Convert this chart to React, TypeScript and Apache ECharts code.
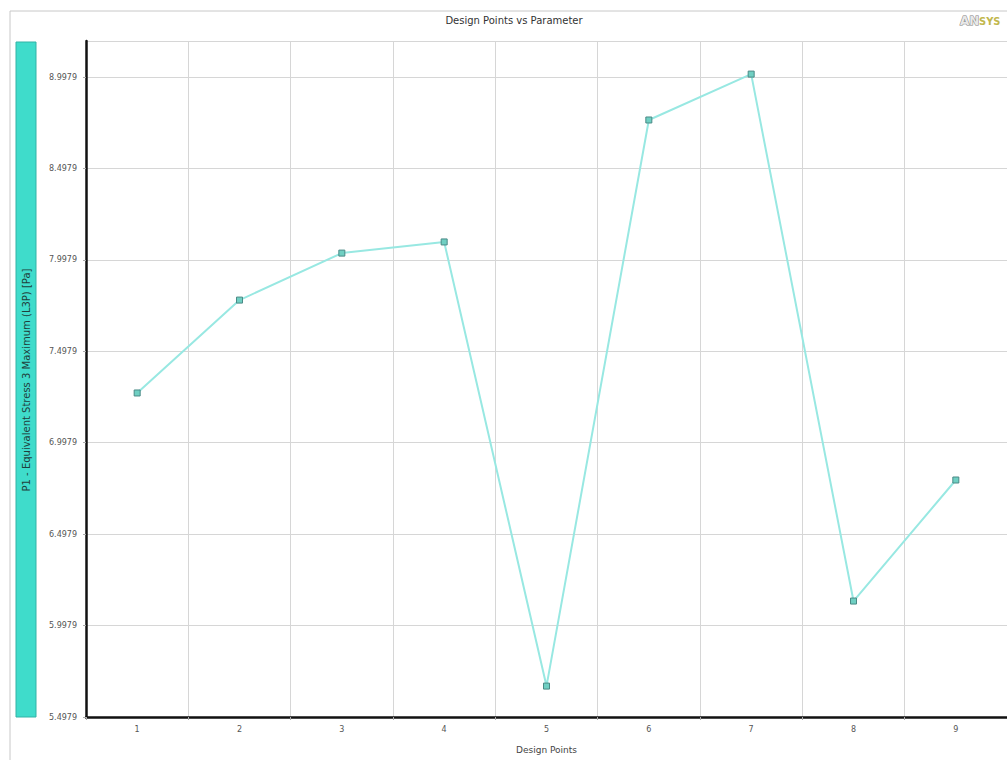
import React, { useEffect, useRef } from "react";
import * as echarts from "echarts";

const categories = ["1", "2", "3", "4", "5", "6", "7", "8", "9"];
const stressValues = [7.27, 7.778, 8.035, 8.096, 5.667, 8.763, 9.014, 6.132, 6.794];
const axisBase = 5.4979;
const axisTop = 9.195;
const tickStep = 0.5;

const titleText = "Design Points vs Parameter";
const xAxisTitle = "Design Points";
const yAxisTitle = "P1 - Equivalent Stress 3 Maximum (L3P) [Pa]";

export default function App() {
  const ref = useRef<HTMLDivElement>(null);
  useEffect(() => {
    if (!ref.current) return;
    const chart = echarts.init(ref.current, undefined, { renderer: "svg" });
    const shifted = stressValues.map((v) => +(v - axisBase).toFixed(4));
    chart.setOption({
      animation: false,
      backgroundColor: "#ffffff",
      grid: { left: 86, top: 41, right: 0, bottom: 43, containLabel: false },
      xAxis: {
        type: "category",
        data: categories,
        boundaryGap: true,
        name: xAxisTitle,
        nameLocation: "middle",
        nameGap: 28,
        nameTextStyle: { fontFamily: "DejaVu Sans", fontSize: 9, color: "#444" },
        axisLine: { show: true, lineStyle: { color: "#111", width: 2.5 } },
        axisTick: { show: true, alignWithLabel: false, length: 3, lineStyle: { color: "#aaa" } },
        axisLabel: { fontFamily: "DejaVu Sans", fontSize: 8, color: "#555", margin: 8 },
        splitLine: { show: true, lineStyle: { color: "#d6d6d6", width: 1 } },
      },
      yAxis: {
        type: "value",
        min: 0,
        max: +(axisTop - axisBase).toFixed(4),
        interval: tickStep,
        axisLine: { show: true, lineStyle: { color: "#111", width: 2.5 } },
        axisTick: { show: true, length: 3, lineStyle: { color: "#aaa" } },
        axisLabel: {
          fontFamily: "DejaVu Sans",
          fontSize: 8,
          color: "#555",
          margin: 9,
          showMaxLabel: false,
          formatter: (v: number) => {
            const r = Math.round(v / tickStep) * tickStep;
            if (Math.abs(r - v) > 1e-6) return "";
            return (v + axisBase).toFixed(4);
          },
        },
        splitLine: { show: true, lineStyle: { color: "#d6d6d6", width: 1 } },
      },
      series: [
        {
          type: "line",
          data: shifted,
          symbol: "rect",
          symbolSize: 6,
          lineStyle: { color: "#98e8e2", width: 2 },
          itemStyle: { color: "#6fcfc2", borderColor: "#4a8a86", borderWidth: 1 },
        },
      ],
      graphic: [
        { type: "line", shape: { x1: 10, y1: 11, x2: 1007, y2: 11 }, style: { stroke: "#c8c8c8", lineWidth: 1 } },
        { type: "line", shape: { x1: 10, y1: 11, x2: 10, y2: 760 }, style: { stroke: "#c8c8c8", lineWidth: 1 } },
        {
          type: "text",
          x: 514,
          y: 20,
          style: { text: titleText, fontFamily: "DejaVu Sans", fontSize: 10, fill: "#333", align: "center", verticalAlign: "middle" },
        },
        {
          type: "text",
          x: 960,
          y: 21,
          style: { text: "AN", fontFamily: "DejaVu Sans", fontSize: 12, fontWeight: "bold", fill: "#e8e8e8", stroke: "#808080", lineWidth: 1, align: "left", verticalAlign: "middle" },
        },
        {
          type: "text",
          x: 979,
          y: 21,
          style: { text: "SYS", fontFamily: "DejaVu Sans Condensed", fontSize: 11, fontWeight: "bold", fill: "#c2b84e", align: "left", verticalAlign: "middle" },
        },
        {
          type: "rect",
          shape: { x: 16, y: 42, width: 20, height: 675 },
          style: { fill: "#3fdccb", stroke: "#33b3a6", lineWidth: 1 },
        },
        {
          type: "text",
          x: 26,
          y: 380,
          rotation: Math.PI / 2,
          style: { text: yAxisTitle, fontFamily: "DejaVu Sans", fontSize: 10, fill: "#1f3f3c", align: "center", verticalAlign: "middle" },
        },
      ],
    });
    return () => chart.dispose();
  }, []);
  return (
    <div
      ref={ref}
      style={{ position: "fixed", left: 0, top: 0, width: 1007, height: 760, background: "#fff" }}
    />
  );
}
